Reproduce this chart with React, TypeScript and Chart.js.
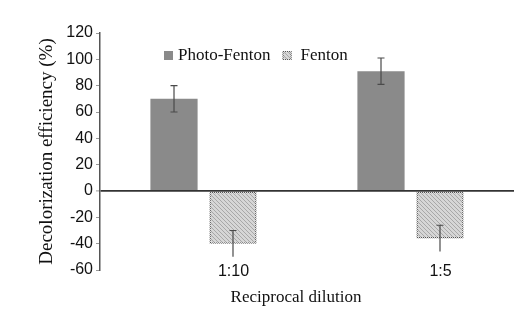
import React, { useEffect, useRef } from "react";
import { Chart, registerables } from "chart.js";

Chart.register(...registerables);

const categories = ["1:10", "1:5"];
const photoFenton = [70, 91];
const photoFentonErr = [10, 10];
const fenton = [-40, -36];
const fentonErr = [10, 10];
const yTicks = [-60, -40, -20, 0, 20, 40, 60, 80, 100, 120];
const xTitle = "Reciprocal dilution";
const yTitle = "Decolorization efficiency (%)";

function makeHatch(): CanvasPattern | string {
  const c = document.createElement("canvas");
  c.width = 4;
  c.height = 4;
  const g = c.getContext("2d");
  if (!g) return "#c4c4c4";
  g.fillStyle = "#d6d6d6";
  g.fillRect(0, 0, 4, 4);
  g.fillStyle = "#a8a8a8";
  for (let i = 0; i < 4; i++) g.fillRect(i, i, 1, 1);
  const p = g.createPattern(c, "repeat");
  return p || "#c4c4c4";
}

function makeDots(): CanvasPattern | string {
  const c = document.createElement("canvas");
  c.width = 2;
  c.height = 2;
  const g = c.getContext("2d");
  if (!g) return "#666";
  g.fillStyle = "#e0e0e0";
  g.fillRect(0, 0, 2, 2);
  g.fillStyle = "#555555";
  g.fillRect(0, 0, 1, 1);
  g.fillRect(1, 1, 1, 1);
  const p = g.createPattern(c, "repeat");
  return p || "#666";
}

const errorBarPlugin = {
  id: "errorBars",
  afterDatasetsDraw(chart: any) {
    const ctx = chart.ctx;
    const y = chart.scales.y;
    const errs = [photoFentonErr, fentonErr];
    const lowerCaps = [true, false];
    chart.data.datasets.forEach((ds: any, di: number) => {
      const meta = chart.getDatasetMeta(di);
      meta.data.forEach((el: any, i: number) => {
        const v = ds.data[i];
        const e = errs[di][i];
        const x = el.x;
        const yTop = y.getPixelForValue(v + e);
        const yBot = y.getPixelForValue(v - e);
        ctx.save();
        ctx.strokeStyle = "#4a4a4a";
        ctx.lineWidth = 1.2;
        ctx.beginPath();
        ctx.moveTo(x, yTop);
        ctx.lineTo(x, yBot);
        ctx.moveTo(x - 3.5, yTop);
        ctx.lineTo(x + 3.5, yTop);
        if (lowerCaps[di]) {
          ctx.moveTo(x - 3.5, yBot);
          ctx.lineTo(x + 3.5, yBot);
        }
        ctx.stroke();
        ctx.restore();
      });
    });
  },
};

const decorPlugin = {
  id: "decor",
  afterDraw(chart: any) {
    const ctx = chart.ctx;
    ctx.save();
    // legend inside the plot area
    ctx.font = "17px 'Liberation Serif', 'Times New Roman', serif";
    ctx.textBaseline = "middle";
    ctx.textAlign = "left";
    const cy = 55;
    let x = 164;
    chart.data.datasets.forEach((ds: any, i: number) => {
      ctx.fillStyle = ds.backgroundColor;
      ctx.fillRect(x, cy - 4, 9, 9);
      if (i === 1) {
        ctx.strokeStyle = ds.borderColor;
        ctx.lineWidth = 1;
        ctx.strokeRect(x + 0.5, cy - 3.5, 8, 8);
      }
      const tx = x + (i === 0 ? 14 : 18);
      ctx.fillStyle = "#111";
      ctx.fillText(ds.label, tx, cy + 1);
      x = tx + ctx.measureText(ds.label).width + 12;
    });
    // category labels (positions from the category scale)
    const xs = chart.scales.x;
    ctx.font = "16px 'Liberation Sans', Arial, sans-serif";
    ctx.textAlign = "center";
    ctx.fillStyle = "#111";
    categories.forEach((c, i) => {
      ctx.fillText(c, xs.getPixelForValue(i) + 30, 272);
    });
    // x axis title
    ctx.font = "17px 'Liberation Serif', 'Times New Roman', serif";
    ctx.fillText(xTitle, 296, 298);
    ctx.restore();
  },
};

export default function App() {
  const ref = useRef<HTMLCanvasElement | null>(null);
  useEffect(() => {
    if (!ref.current) return;
    const hatch = makeHatch();
    const dots = makeDots();
    const chart = new Chart(ref.current, {
      type: "bar",
      data: {
        labels: categories,
        datasets: [
          {
            label: "Photo-Fenton",
            data: photoFenton,
            backgroundColor: "#8a8a8a",
            borderWidth: 0,
            categoryPercentage: 0.57,
            barPercentage: 0.8,
          },
          {
            label: "Fenton",
            data: fenton,
            backgroundColor: hatch as any,
            borderColor: dots as any,
            borderWidth: 1.5,
            borderSkipped: false,
            categoryPercentage: 0.57,
            barPercentage: 0.8,
          },
        ],
      },
      plugins: [errorBarPlugin, decorPlugin],
      options: {
        responsive: false,
        animation: false,
        layout: { padding: { left: 0, right: 17, top: 33, bottom: 0 } },
        plugins: {
          legend: { display: false },
          tooltip: { enabled: false },
        },
        scales: {
          x: {
            offset: true,
            border: { display: false },
            grid: { display: false, drawTicks: false },
            ticks: { display: false },
            title: { display: false },
            afterFit(scale: any) {
              scale.height = 48;
            },
          },
          y: {
            min: -60,
            max: 120,
            afterBuildTicks(scale: any) {
              scale.ticks = yTicks.map((v) => ({ value: v }));
            },
            border: { display: true, color: "#555", width: 1.5 },
            grid: {
              color: (c: any) => (c.tick && c.tick.value === 0 ? "#333" : "transparent"),
              lineWidth: (c: any) => (c.tick && c.tick.value === 0 ? 1.8 : 1),
              tickColor: "#999",
              tickLength: 4,
              tickWidth: 1,
            },
            ticks: {
              color: "#111",
              font: { family: "'Liberation Sans', Arial, sans-serif", size: 16 },
              padding: 3,
            },
            title: {
              display: true,
              text: yTitle,
              color: "#111",
              font: { family: "'Liberation Serif', 'Times New Roman', serif", size: 19 },
              padding: { top: 36, bottom: 0 },
            },
            afterFit(scale: any) {
              scale.width = 100;
            },
          },
        },
      },
    });
    return () => chart.destroy();
  }, []);
  return (
    <div style={{ position: "fixed", left: 0, top: 0, width: 531, height: 318, background: "#fff" }}>
      <canvas ref={ref} width={531} height={318} />
    </div>
  );
}
